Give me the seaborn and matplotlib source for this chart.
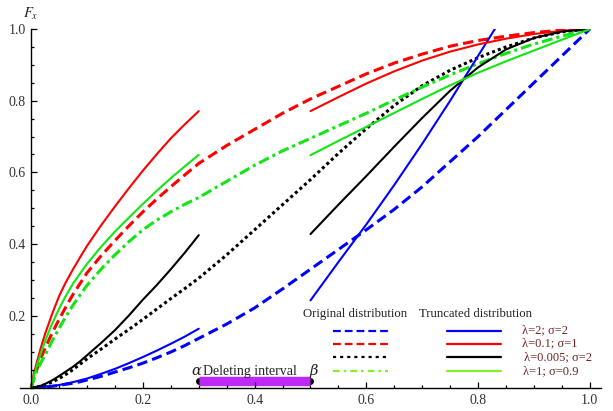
import numpy as np
import pandas as pd
import matplotlib
matplotlib.use("Agg")
import matplotlib.pyplot as plt
from matplotlib.lines import Line2D
from matplotlib.ticker import MultipleLocator, FixedLocator, FormatStrFormatter
import seaborn as sns

# ---------------- data ----------------
alpha_beta = [0.3, 0.5]          # deleted interval

x_left = [0, 0.005, 0.01, 0.0175, 0.025, 0.0375, 0.05, 0.0625, 0.075, 0.0875, 0.1,
          0.125, 0.15, 0.175, 0.2, 0.225, 0.25, 0.275, 0.3]
x_orig = x_left + [0.35, 0.4, 0.45, 0.5, 0.55, 0.6, 0.65, 0.7, 0.75, 0.8, 0.85, 0.9, 0.95, 1.0]

orig_blue = [0, 0.0001, 0.0003, 0.0008, 0.0015, 0.0035, 0.006, 0.009, 0.012, 0.016, 0.021,
             0.031, 0.043, 0.055, 0.068, 0.083, 0.099, 0.117, 0.137,
             0.177, 0.222, 0.275, 0.33, 0.385, 0.44, 0.497, 0.56, 0.63, 0.70, 0.775, 0.85, 0.925, 1.0]
orig_red = [0, 0.027, 0.05, 0.082, 0.11, 0.152, 0.19, 0.226, 0.26, 0.29, 0.32,
            0.367, 0.41, 0.451, 0.49, 0.526, 0.56, 0.593, 0.625,
            0.675, 0.72, 0.765, 0.805, 0.84, 0.875, 0.905, 0.93, 0.952, 0.968, 0.98, 0.99, 0.997, 1.0]
orig_black = [0, 0.0003, 0.001, 0.004, 0.008, 0.015, 0.025, 0.037, 0.05, 0.065, 0.08,
              0.107, 0.135, 0.162, 0.19, 0.219, 0.248, 0.276, 0.305,
              0.37, 0.44, 0.51, 0.58, 0.653, 0.722, 0.787, 0.842, 0.885, 0.92, 0.95, 0.975, 0.992, 1.0]
orig_green = [0, 0.024, 0.045, 0.07, 0.09, 0.13, 0.165, 0.199, 0.23, 0.258, 0.285,
              0.33, 0.37, 0.407, 0.44, 0.467, 0.49, 0.511, 0.53,
              0.575, 0.62, 0.66, 0.695, 0.73, 0.765, 0.802, 0.838, 0.872, 0.903, 0.932, 0.958, 0.98, 1.0]

trunc_left_blue = [0, 0.0001, 0.0004, 0.001, 0.002, 0.004, 0.007, 0.011, 0.015, 0.02, 0.025,
                   0.038, 0.052, 0.068, 0.085, 0.103, 0.122, 0.142, 0.164]
trunc_left_red = [0, 0.04, 0.07, 0.112, 0.15, 0.205, 0.255, 0.295, 0.33, 0.363, 0.395,
                  0.452, 0.505, 0.556, 0.605, 0.651, 0.695, 0.734, 0.771]
trunc_left_black = [0, 0.0005, 0.002, 0.005, 0.01, 0.02, 0.032, 0.045, 0.058, 0.073, 0.09,
                    0.124, 0.16, 0.201, 0.245, 0.286, 0.33, 0.376, 0.425]
trunc_left_green = [0, 0.033, 0.06, 0.097, 0.13, 0.178, 0.22, 0.257, 0.29, 0.318, 0.345,
                    0.392, 0.435, 0.474, 0.512, 0.549, 0.584, 0.617, 0.649]

x_right = [0.5, 0.55, 0.6, 0.65, 0.7, 0.75, 0.8, 0.85, 0.9, 0.95, 1.0]
x_right_blue = [0.5, 0.55, 0.6, 0.65, 0.7, 0.75, 0.8, 0.85]
trunc_right_blue = [0.243, 0.35, 0.455, 0.565, 0.68, 0.80, 0.925, 1.05]
trunc_right_red = [0.771, 0.81, 0.848, 0.882, 0.912, 0.937, 0.957, 0.973, 0.986, 0.995, 1.0]
trunc_right_black = [0.428, 0.51, 0.59, 0.672, 0.752, 0.828, 0.893, 0.943, 0.975, 0.993, 1.0]
trunc_right_green = [0.648, 0.688, 0.727, 0.766, 0.805, 0.843, 0.878, 0.91, 0.94, 0.97, 1.0]

legend_labels = ["λ=2; σ=2", "λ=0.1; σ=1", "λ=0.005; σ=2", "λ=1; σ=0.9"]
x_ticks = [0.0, 0.2, 0.4, 0.6, 0.8, 1.0]
y_ticks = [0.2, 0.4, 0.6, 0.8, 1.0]

# ---------------- style ----------------
sns.set_theme(style="white")
plt.rcParams["font.family"] = ["Liberation Serif", "DejaVu Serif"]
plt.rcParams["mathtext.fontset"] = "stix"

W, H = 613, 411
fig = plt.figure(figsize=(W / 100, H / 100), dpi=100)
ax = fig.add_axes([20 / W, 23.5 / H, 581 / W, 358.5 / H])

BLUE, RED, BLACK, GREEN = "#0000FF", "#FF0000", "#000000", "#12E612"
LGREEN = "#84EE2A"
colors = [BLUE, RED, BLACK, GREEN]

dash_orig = (0, (3.4, 1.7))
dot_orig = (0, (1.0, 1.0))
dashdot_orig = (0, (3.6, 1.3, 1.0, 1.3))
orig_styles = [dash_orig, dash_orig, dot_orig, dashdot_orig]

df_orig = pd.DataFrame({"x": x_orig, "blue": orig_blue, "red": orig_red,
                        "black": orig_black, "green": orig_green})
for name, c, ls in zip(["blue", "red", "black", "green"], colors, orig_styles):
    sns.lineplot(data=df_orig, x="x", y=name, ax=ax, color=c, lw=2.2,
                 linestyle=ls, zorder=3)

for xs, ys, c in [(x_left, trunc_left_blue, BLUE), (x_left, trunc_left_red, RED),
                  (x_left, trunc_left_black, BLACK), (x_left, trunc_left_green, GREEN),
                  (x_right_blue, trunc_right_blue, BLUE), (x_right, trunc_right_red, RED),
                  (x_right, trunc_right_black, BLACK), (x_right, trunc_right_green, GREEN)]:
    sns.lineplot(x=xs, y=ys, ax=ax, color=c, lw=1.5, zorder=4)

# deleting interval
bar_y = 0.017
ax.scatter(alpha_beta, [bar_y, bar_y], s=16, color="black", zorder=1.8, clip_on=False)
ax.plot(alpha_beta, [bar_y, bar_y], color="#BE2AF5", lw=6.8, solid_capstyle="butt", zorder=2)
ax.text(alpha_beta[0] - 0.004, 0.035, "α", fontsize=10.5, ha="center", va="baseline",
        fontstyle="italic", color="#222222", family=["DejaVu Serif"])
ax.text(sum(alpha_beta) / 2 - 0.008, 0.035, "Deleting interval", fontsize=10,
        ha="center", va="baseline", color="#222222")
ax.text(alpha_beta[1] + 0.006, 0.035, "β", fontsize=10.5, ha="center", va="baseline",
        fontstyle="italic", color="#222222", family=["DejaVu Serif"])

# axes
ax.set_xlim(-0.02, 1.02)
ax.set_ylim(0, 1.0)
ax.set_xlabel("")
ax.set_ylabel("")
for s in ["top", "right"]:
    ax.spines[s].set_visible(False)
ax.spines["left"].set_position(("data", 0))
ax.spines["bottom"].set_position(("data", 0))
for s in ["left", "bottom"]:
    ax.spines[s].set_color("black")
    ax.spines[s].set_linewidth(1.0)
    ax.spines[s].set_zorder(6)
ax.xaxis.set_zorder(6)
ax.yaxis.set_zorder(6)
ax.xaxis.set_major_locator(FixedLocator(x_ticks))
ax.yaxis.set_major_locator(FixedLocator(y_ticks))
ax.xaxis.set_minor_locator(MultipleLocator(0.05))
ax.yaxis.set_minor_locator(MultipleLocator(0.05))
ax.xaxis.set_major_formatter(FormatStrFormatter("%.1f"))
ax.yaxis.set_major_formatter(FormatStrFormatter("%.1f"))
ax.tick_params(which="both", direction="in", color="black", width=0.9,
               bottom=True, left=True, labelsize=10, labelcolor="#333333")
ax.tick_params(which="major", length=4.0)
ax.tick_params(which="minor", length=2.2)
ax.tick_params(axis="x", pad=5)
ax.tick_params(axis="y", pad=4)
ax.grid(False)
ax.set_facecolor("white")

fig.text(31 / W, 1 - 14 / H, r"$F_x$", ha="center", va="center", fontsize=10.5,
         color="#222222")

# legend drawn manually (figure pixel layout)
def fx(px):
    return px / W

def fy(py):
    return 1 - py / H

fig.text(fx(355), fy(313.5), "Original distribution", ha="center", va="center",
         fontsize=9.2, color="#222222")
fig.text(fx(475.5), fy(313.5), "Truncated distribution", ha="center", va="center",
         fontsize=9.2, color="#222222")
rows_y = [330.5, 343.5, 357.3, 371.0]
leg_orig_styles = [(0, (3.5, 1.8)), (0, (3.5, 1.8)), (0, (1.4, 1.8)), (0, (3.0, 1.8, 1.2, 1.8))]
leg_colors_orig = [BLUE, RED, BLACK, LGREEN]
leg_colors_trunc = [BLUE, RED, BLACK, LGREEN]
label_x = [522, 522, 524, 523]
for i, ry in enumerate(rows_y):
    fig.add_artist(Line2D([fx(333), fx(388)], [fy(ry), fy(ry)], transform=fig.transFigure,
                          color=leg_colors_orig[i], lw=1.6, linestyle=leg_orig_styles[i]))
    fig.add_artist(Line2D([fx(447), fx(501)], [fy(ry), fy(ry)], transform=fig.transFigure,
                          color=leg_colors_trunc[i], lw=1.6))
    fig.text(fx(label_x[i]), fy(ry), legend_labels[i], ha="left", va="center",
             fontsize=9, color="#6B2626")

fig.savefig("out.png", dpi=100, facecolor="white")
